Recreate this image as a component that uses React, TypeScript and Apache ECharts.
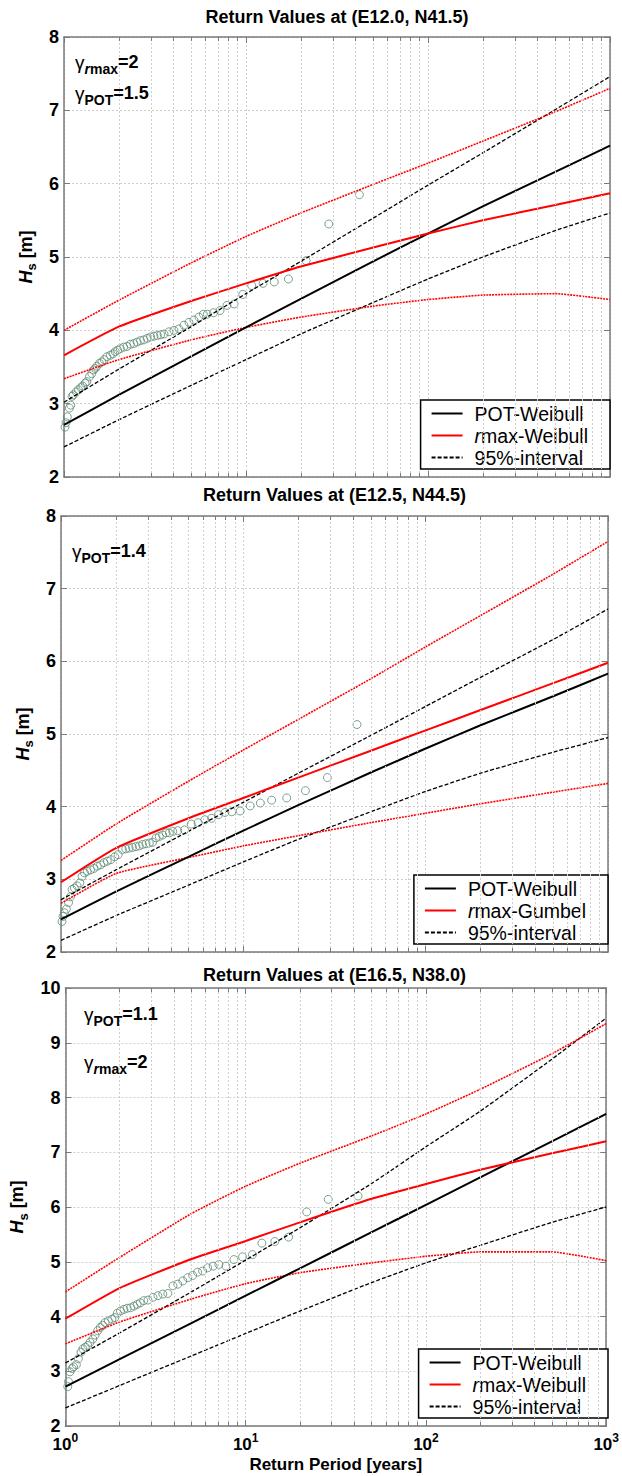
import React, { useEffect, useRef } from "react";
import * as echarts from "echarts";

// ---------- shared axis values ----------
const returnPeriods = [1, 2, 5, 10, 20, 50, 100, 200, 500, 1000];
const xMinorValues = [2, 3, 4, 5, 6, 7, 8, 9, 20, 30, 40, 50, 60, 70, 80, 90, 200, 300, 400, 500, 600, 700, 800, 900];
const panelTitles = [
  "Return Values at (E12.0, N41.5)",
  "Return Values at (E12.5, N44.5)",
  "Return Values at (E16.5, N38.0)",
];
const rmaxNames = ["rmax-Weibull", "rmax-Gumbel", "rmax-Weibull"];
const yMins = [2, 2, 2];
const yMaxs = [8, 8, 10];

// ---------- panel 1 (E12.0, N41.5) ----------
const p1Pot = [2.71, 3.12, 3.645, 4.04, 4.43, 4.94, 5.32, 5.69, 6.16, 6.52];
const p1PotUpper = [3.02, 3.47, 4.05, 4.5, 4.94, 5.53, 5.98, 6.42, 7.01, 7.46];
const p1PotLower = [2.41, 2.78, 3.25, 3.6, 3.95, 4.38, 4.7, 5.0, 5.36, 5.6];
const p1Rmax = [3.66, 4.05, 4.4, 4.64, 4.87, 5.13, 5.32, 5.5, 5.71, 5.87];
const p1RmaxUpper = [4.0, 4.41, 4.92, 5.28, 5.6, 5.99, 6.28, 6.58, 6.98, 7.3];
const p1RmaxLower = [3.34, 3.6, 3.87, 4.04, 4.18, 4.33, 4.42, 4.48, 4.5, 4.42];
const p1Obs = [
  [1.013, 2.68], [1.026, 2.74], [1.043, 2.82], [1.07, 2.94], [1.089, 2.98], [1.107, 3.1], [1.126, 3.12],
  [1.165, 3.16], [1.2, 3.19], [1.236, 3.22], [1.268, 3.24], [1.306, 3.28], [1.334, 3.3], [1.38, 3.37],
  [1.422, 3.41], [1.452, 3.46], [1.483, 3.48], [1.515, 3.51], [1.567, 3.55], [1.615, 3.57], [1.663, 3.6],
  [1.721, 3.64], [1.796, 3.66], [1.858, 3.68], [1.913, 3.71], [1.971, 3.73], [2.038, 3.75], [2.126, 3.77],
  [2.219, 3.78], [2.316, 3.81], [2.417, 3.82], [2.522, 3.84], [2.632, 3.86], [2.746, 3.87], [2.866, 3.89],
  [2.991, 3.91], [3.121, 3.92], [3.257, 3.93], [3.398, 3.94], [3.546, 3.95], [3.776, 3.98], [4.022, 4.0],
  [4.284, 4.02], [4.562, 4.07], [4.859, 4.11], [5.176, 4.14], [5.512, 4.18], [5.831, 4.22], [6.13, 4.22],
  [6.63, 4.24], [7.2, 4.27], [7.86, 4.34], [8.6, 4.36], [9.6, 4.49], [10.75, 4.61], [12.4, 4.64],
  [14.3, 4.66], [17.1, 4.7], [21.4, 4.95], [28.5, 5.45], [42, 5.85],
];

// ---------- panel 2 (E12.5, N44.5) ----------
const p2Pot = [2.45, 2.83, 3.31, 3.67, 4.02, 4.47, 4.8, 5.12, 5.52, 5.83];
const p2PotUpper = [2.72, 3.13, 3.66, 4.06, 4.46, 4.98, 5.38, 5.78, 6.3, 6.72];
const p2PotLower = [2.16, 2.5, 2.92, 3.24, 3.55, 3.93, 4.21, 4.46, 4.75, 4.95];
const p2Rmax = [2.96, 3.43, 3.84, 4.12, 4.4, 4.77, 5.05, 5.33, 5.7, 5.98];
const p2RmaxUpper = [3.26, 3.76, 4.35, 4.78, 5.2, 5.76, 6.2, 6.63, 7.2, 7.65];
const p2RmaxLower = [2.67, 3.08, 3.3, 3.46, 3.6, 3.78, 3.91, 4.04, 4.2, 4.32];
const p2Obs = [
  [1.013, 2.42], [1.026, 2.49], [1.043, 2.54], [1.07, 2.59], [1.1, 2.68], [1.126, 2.76], [1.15, 2.86],
  [1.185, 2.88], [1.226, 2.91], [1.268, 2.95], [1.306, 3.04], [1.345, 3.09], [1.392, 3.11], [1.452, 3.13],
  [1.515, 3.15], [1.581, 3.18], [1.649, 3.2], [1.72, 3.23], [1.795, 3.25], [1.873, 3.27], [1.972, 3.31],
  [2.058, 3.34], [2.17, 3.41], [2.266, 3.42], [2.364, 3.43], [2.466, 3.44], [2.573, 3.45], [2.685, 3.46],
  [2.8, 3.48], [2.924, 3.49], [3.05, 3.5], [3.18, 3.51], [3.32, 3.57], [3.46, 3.59], [3.61, 3.61],
  [3.77, 3.64], [3.93, 3.64], [4.1, 3.66], [4.37, 3.67], [4.76, 3.68], [5.18, 3.76], [5.65, 3.78],
  [6.15, 3.82], [6.7, 3.84], [7.3, 3.89], [7.93, 3.92], [8.64, 3.93], [9.6, 3.94], [10.9, 4.01],
  [12.4, 4.05], [14.3, 4.09], [17.3, 4.12], [21.9, 4.22], [28.9, 4.4], [42, 5.13],
];

// ---------- panel 3 (E16.5, N38.0) ----------
const p3Pot = [2.72, 3.22, 3.88, 4.38, 4.88, 5.54, 6.04, 6.54, 7.2, 7.7];
const p3PotUpper = [3.15, 3.7, 4.45, 5.03, 5.62, 6.43, 7.1, 7.75, 8.7, 9.45];
const p3PotLower = [2.33, 2.74, 3.28, 3.69, 4.1, 4.62, 4.98, 5.3, 5.72, 6.0];
const p3Rmax = [3.96, 4.52, 5.05, 5.38, 5.72, 6.15, 6.42, 6.68, 6.98, 7.2];
const p3RmaxUpper = [4.45, 5.08, 5.88, 6.38, 6.8, 7.3, 7.7, 8.15, 8.8, 9.35];
const p3RmaxLower = [3.5, 3.9, 4.32, 4.6, 4.8, 4.98, 5.1, 5.18, 5.18, 5.02];
const p3Obs = [
  [1.03, 2.72], [1.04, 2.81], [1.06, 2.99], [1.09, 3.05], [1.11, 3.08], [1.15, 3.12], [1.18, 3.23],
  [1.22, 3.35], [1.25, 3.41], [1.29, 3.44], [1.33, 3.47], [1.37, 3.53], [1.42, 3.59], [1.46, 3.66],
  [1.51, 3.74], [1.56, 3.8], [1.61, 3.84], [1.66, 3.89], [1.73, 3.92], [1.81, 3.95], [1.88, 3.98],
  [1.94, 4.06], [2.02, 4.1], [2.11, 4.13], [2.2, 4.15], [2.3, 4.16], [2.4, 4.19], [2.5, 4.22],
  [2.6, 4.25], [2.72, 4.29], [2.87, 4.3], [3.06, 4.35], [3.26, 4.38], [3.47, 4.41], [3.7, 4.42],
  [3.95, 4.56], [4.2, 4.59], [4.48, 4.65], [4.77, 4.71], [5.08, 4.75], [5.41, 4.81], [5.77, 4.83],
  [6.15, 4.89], [6.6, 4.92], [7.1, 4.95], [7.77, 4.92], [8.6, 5.04], [9.6, 5.09], [10.9, 5.13],
  [12.3, 5.34], [14.5, 5.37], [17.3, 5.45], [21.8, 5.91], [28.7, 6.14], [42, 6.2],
];

const gammaLabels = [
  [{ sub: "rmax", value: "=2" }, { sub: "POT", value: "=1.5" }],
  [{ sub: "POT", value: "=1.4" }],
  [{ sub: "POT", value: "=1.1" }, { sub: "rmax", value: "=2" }],
];

const panels = [
  { pot: p1Pot, potUp: p1PotUpper, potLo: p1PotLower, rmax: p1Rmax, rmaxUp: p1RmaxUpper, rmaxLo: p1RmaxLower, obs: p1Obs },
  { pot: p2Pot, potUp: p2PotUpper, potLo: p2PotLower, rmax: p2Rmax, rmaxUp: p2RmaxUpper, rmaxLo: p2RmaxLower, obs: p2Obs },
  { pot: p3Pot, potUp: p3PotUpper, potLo: p3PotLower, rmax: p3Rmax, rmaxUp: p3RmaxUpper, rmaxLo: p3RmaxLower, obs: p3Obs },
];

// ---------- layout ----------
const W = 622;
const grids = [
  { left: 64, top: 37, width: 546, height: 440 },
  { left: 61, top: 516, width: 547, height: 436 },
  { left: 61, top: 988, width: 547, height: 438 },
];
const titleCenters = [17, 495, 975];
const gammaPos = [
  [{ x: 75, y: 62 }, { x: 75, y: 93 }],
  [{ x: 72, y: 551 }],
  [{ x: 84, y: 1014 }, { x: 84, y: 1062 }],
];

const FONT = "Liberation Sans, Arial, Helvetica, sans-serif";
const AXIS_GREY = "#7a7a7a";
const GRID_GREY = "#cfcfcf";
const RED = "#ff0000";
const OBS = "#5e8a72";

function pairs(vals: number[]) {
  return returnPeriods.map((t, k) => [t, vals[k]]);
}

export default function App() {
  const ref = useRef<HTMLDivElement>(null);
  useEffect(() => {
    if (!ref.current) return;
    const chart = echarts.init(ref.current, null, { renderer: "svg" });

    const xAxes: any[] = [];
    const yAxes: any[] = [];
    const series: any[] = [];
    const titles: any[] = [];
    const legends: any[] = [];
    const graphics: any[] = [];

    grids.forEach((g, i) => {
      const isLast = i === 2;
      xAxes.push({
        type: "log",
        logBase: 10,
        min: 1,
        max: 1000,
        splitNumber: 3,
        gridIndex: i,
        position: "bottom",
        axisLine: { show: true, lineStyle: { color: AXIS_GREY, width: 1.5 } },
        axisTick: { show: true, inside: true, length: 6, lineStyle: { color: AXIS_GREY, width: 1 } },
        axisLabel: {
          show: isLast,
          margin: 6,
          formatter: (v: number) => `{b|10}{s|${Math.round(Math.log10(v))}}`,
          rich: {
            b: { fontSize: 17, fontWeight: "bold", fontFamily: FONT, color: "#000" },
            s: { fontSize: 12, fontWeight: "bold", fontFamily: FONT, color: "#000", padding: [0, 0, 12, 0] },
          },
        },
        splitLine: { show: true, lineStyle: { color: GRID_GREY, type: [2, 2], width: 1 } },
        name: isLast ? "Return Period [years]" : "",
        nameLocation: "middle",
        nameGap: 30,
        nameTextStyle: { fontSize: 17, fontWeight: "bold", fontFamily: FONT, color: "#000" },
      });
      xAxes.push({
        type: "log",
        logBase: 10,
        min: 1,
        max: 1000,
        splitNumber: 3,
        gridIndex: i,
        position: "top",
        axisLine: { show: true, lineStyle: { color: AXIS_GREY, width: 1.5 } },
        axisTick: { show: true, inside: true, length: 6, lineStyle: { color: AXIS_GREY, width: 1 } },
        axisLabel: { show: false },
        splitLine: { show: false },
      });
      yAxes.push({
        type: "value",
        min: yMins[i],
        max: yMaxs[i],
        interval: 1,
        gridIndex: i,
        position: "left",
        axisLine: { show: true, lineStyle: { color: AXIS_GREY, width: 1.5 } },
        axisTick: { show: true, inside: true, length: 6, lineStyle: { color: AXIS_GREY, width: 1 } },
        axisLabel: { show: true, margin: 5, fontSize: 18, fontWeight: "bold", fontFamily: FONT, color: "#000" },
        splitLine: { show: true, lineStyle: { color: GRID_GREY, type: [2, 2], width: 1 } },
        name: "{h|H}{s|s}{n| [m]}",
        nameLocation: "middle",
        nameGap: 22,
        nameRotate: 90,
        nameTextStyle: {
          rich: {
            h: { fontSize: 18, fontWeight: "bold", fontStyle: "italic", fontFamily: FONT, color: "#000" },
            s: { fontSize: 13, fontWeight: "bold", fontFamily: FONT, color: "#000", padding: [12, 0, 0, 0] },
            n: { fontSize: 18, fontWeight: "bold", fontFamily: FONT, color: "#000" },
          },
        },
      });
      yAxes.push({
        type: "value",
        min: yMins[i],
        max: yMaxs[i],
        interval: 1,
        gridIndex: i,
        position: "right",
        axisLine: { show: true, lineStyle: { color: AXIS_GREY, width: 1.5 } },
        axisTick: { show: true, inside: true, length: 6, lineStyle: { color: AXIS_GREY, width: 1 } },
        axisLabel: { show: false },
        splitLine: { show: false },
      });

      const xi = 2 * i;
      const yi = 2 * i;
      const yMin = yMins[i];
      const yMax = yMaxs[i];
      const tickLen = (4 / g.height) * (yMax - yMin);

      // minor grid lines and minor ticks (decoration along the log axis)
      series.push({
        type: "line",
        name: "grid" + i,
        xAxisIndex: xi,
        yAxisIndex: yi,
        data: [],
        silent: true,
        z: 1,
        markLine: {
          silent: true,
          symbol: ["none", "none"],
          label: { show: false },
          lineStyle: { color: GRID_GREY, type: [2, 2], width: 1 },
          data: [
            ...xMinorValues.map((v) => ({ xAxis: v })),
            ...xMinorValues.map((v) => [
              { coord: [v, yMin], lineStyle: { color: AXIS_GREY, type: "solid", width: 1 } },
              { coord: [v, yMin + tickLen] },
            ]),
            ...xMinorValues.map((v) => [
              { coord: [v, yMax], lineStyle: { color: AXIS_GREY, type: "solid", width: 1 } },
              { coord: [v, yMax - tickLen] },
            ]),
          ],
        },
      });

      const p = panels[i];
      series.push({
        type: "scatter",
        name: "observed" + i,
        xAxisIndex: xi,
        yAxisIndex: yi,
        data: p.obs,
        symbol: "circle",
        symbolSize: 8,
        itemStyle: { color: "rgba(0,0,0,0)", borderColor: OBS, borderWidth: 1 },
        z: 3,
      });
      const lineBase = {
        type: "line",
        xAxisIndex: xi,
        yAxisIndex: yi,
        showSymbol: false,
        symbol: "none",
        smooth: 0.15,
        z: 4,
      };
      const mk = (name: string, vals: number[], color: string, width: number, type: any) => ({
        ...lineBase,
        name,
        data: pairs(vals),
        itemStyle: { color },
        lineStyle: { color, width, type },
      });
      series.push(mk("95%-interval", p.potUp, "#000", 1.3, [4, 2]));
      series.push(mk("POT lower " + i, p.potLo, "#000", 1.3, [4, 2]));
      series.push(mk("rmax upper " + i, p.rmaxUp, RED, 1.6, [2, 1]));
      series.push(mk("rmax lower " + i, p.rmaxLo, RED, 1.6, [2, 1]));
      series.push(mk("POT-Weibull", p.pot, "#000", 2, "solid"));
      series.push(mk(rmaxNames[i], p.rmax, RED, 2, "solid"));

      titles.push({
        text: panelTitles[i],
        left: g.left + g.width / 2,
        top: titleCenters[i] - 10,
        textAlign: "center",
        padding: 0,
        textStyle: { fontSize: 18, fontWeight: "bold", fontFamily: FONT, color: "#000", lineHeight: 20 },
      });

      legends.push({
        orient: "vertical",
        right: W - (g.left + g.width),
        top: g.top + g.height - 8 - 69,
        data: ["POT-Weibull", rmaxNames[i], "95%-interval"],
        selectedMode: false,
        backgroundColor: "#fff",
        borderColor: "#000",
        borderWidth: 1.5,
        borderRadius: 0,
        padding: [3, 22, 1, 10],
        itemWidth: 31,
        itemHeight: 12,
        itemGap: 1,
        itemStyle: { opacity: 0 },
        formatter: (name: string) => (name.startsWith("rmax") ? "{i|r}{t|" + name.slice(1) + "}" : "{t|" + name + "}"),
        textStyle: {
          fontSize: 19.5,
          fontFamily: FONT,
          color: "#000",
          lineHeight: 21,
          padding: [0, 0, 0, 7],
          rich: {
            i: { fontSize: 19.5, fontStyle: "italic", fontFamily: FONT, color: "#000", lineHeight: 21 },
            t: { fontSize: 19.5, fontFamily: FONT, color: "#000", lineHeight: 21 },
          },
        },
      });

      gammaLabels[i].forEach((lab, k) => {
        const pos = gammaPos[i][k];
        const text =
          lab.sub === "rmax"
            ? `{g|γ}{si|r}{sub|max}{v|${lab.value}}`
            : `{g|γ}{sub|${lab.sub}}{v|${lab.value}}`;
        graphics.push({
          type: "text",
          x: pos.x,
          y: pos.y,
          z: 10,
          style: {
            text,
            verticalAlign: "middle",
            align: "left",
            rich: {
              g: { fontSize: 19, fontFamily: FONT, fill: "#000", fontWeight: "normal" },
              sub: { fontSize: 14, fontWeight: "bold", fontFamily: FONT, fill: "#000", padding: [14, 0, 0, 0] },
              si: { fontSize: 14, fontWeight: "bold", fontStyle: "italic", fontFamily: FONT, fill: "#000", padding: [14, 0, 0, 0] },
              v: { fontSize: 18, fontWeight: "bold", fontFamily: FONT, fill: "#000" },
            },
          },
        });
      });
    });

    chart.setOption({
      animation: false,
      backgroundColor: "#fff",
      title: titles,
      legend: legends,
      grid: grids.map((g) => ({ ...g, containLabel: false })),
      xAxis: xAxes,
      yAxis: yAxes,
      series,
      graphic: graphics,
    });
    return () => chart.dispose();
  }, []);
  return (
    <div
      ref={ref}
      style={{ position: "absolute", left: 0, top: 0, width: W, height: 1476, background: "#fff" }}
    />
  );
}
